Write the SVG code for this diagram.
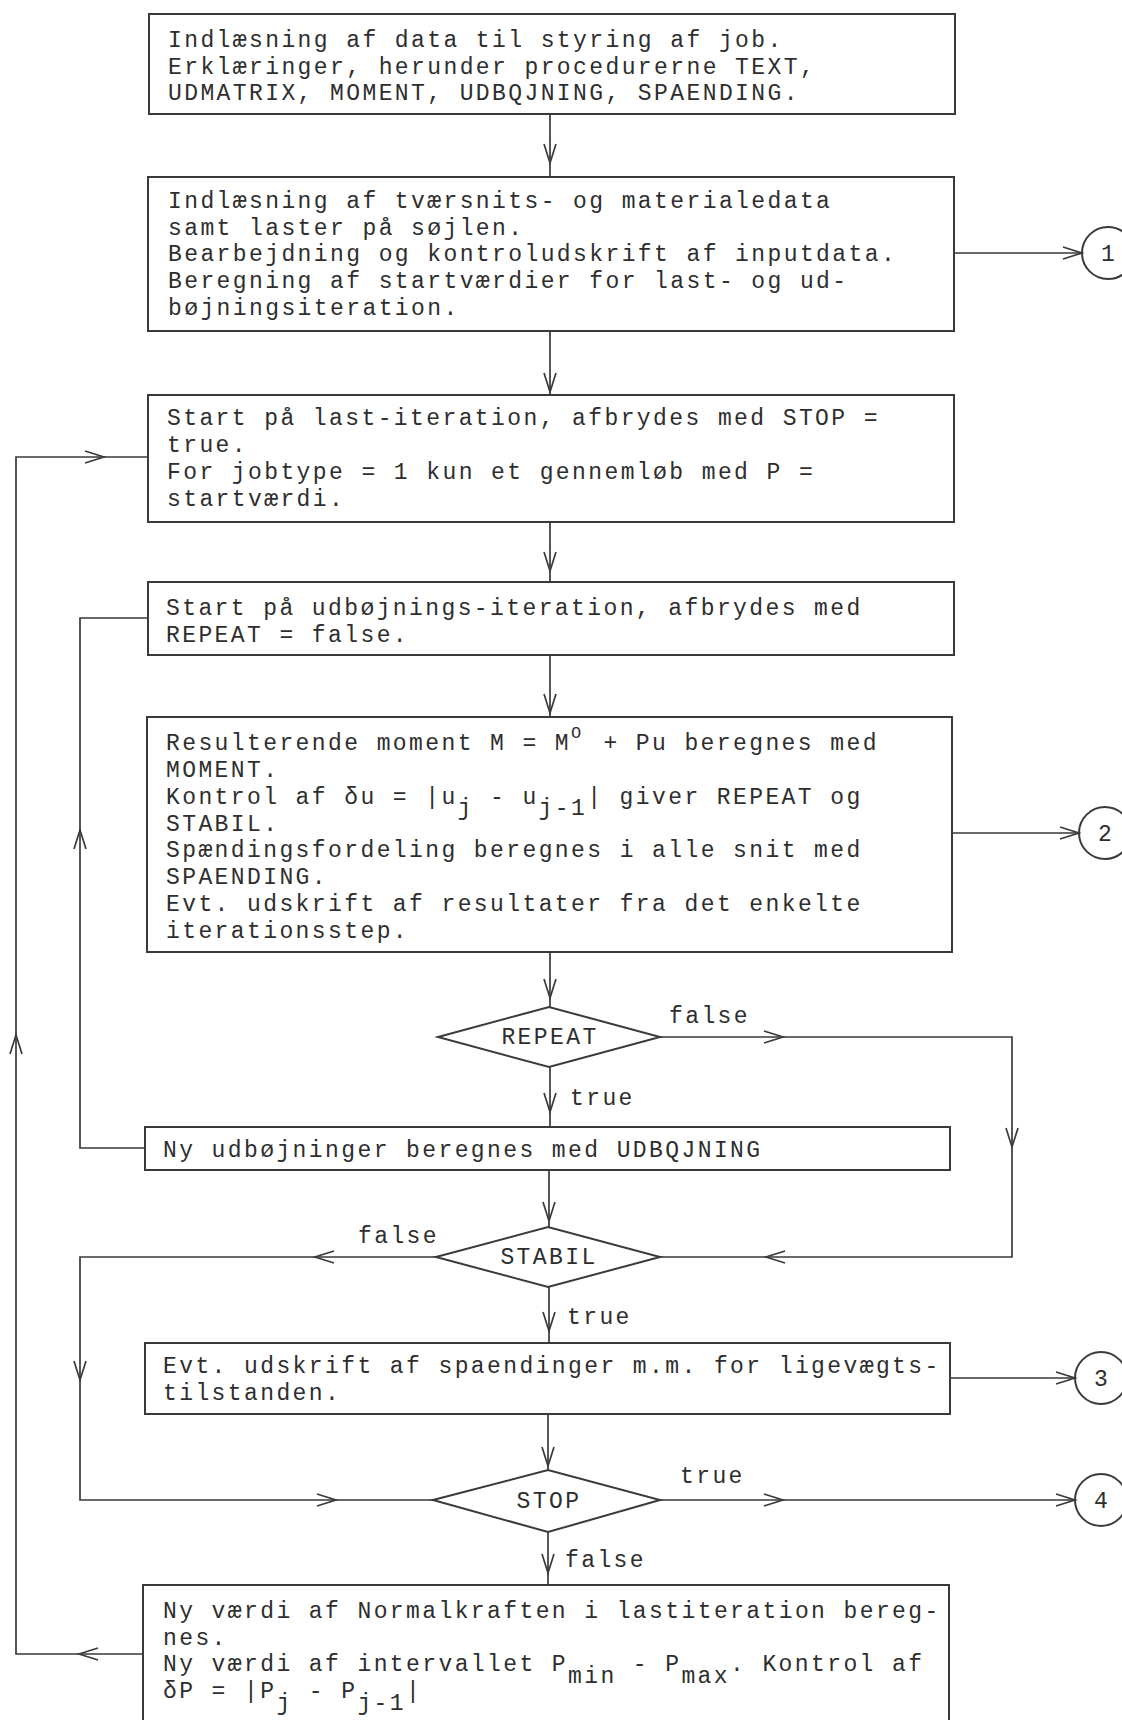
<svg xmlns="http://www.w3.org/2000/svg" xmlns:xlink="http://www.w3.org/1999/xlink" width="1122" height="1720" viewBox="0 0 1122 1720">
<style>
.bx{fill:none;stroke:#3a3a3a;stroke-width:2}
.dm{fill:none;stroke:#3a3a3a;stroke-width:2}
.ln{fill:none;stroke:#3a3a3a;stroke-width:1.7}
.t{font-family:"Liberation Mono","DejaVu Sans Mono",monospace;font-size:23px;letter-spacing:2.4px;fill:#2e2e2e}
.s{font-size:17px;letter-spacing:3px}
.c{text-anchor:middle}
.n{text-anchor:middle;letter-spacing:0}
</style>
<defs>
<path id="chev" d="M-19,-6 L0,0 L-19,6" fill="none" stroke="#3a3a3a" stroke-width="1.7"/>
</defs>
<rect width="1122" height="1720" fill="#ffffff"/>

<g id="connectors">
<path class="ln" d="M550,114 V177 M550,331 V395 M550,522 V582 M550,655 V717 M550,952 V1007 M550,1067 V1127 M549,1170 V1227 M549,1287 V1343 M548,1414 V1470 M548,1532 V1585"/>
<path class="ln" d="M954,253 H1082 M952,833 H1079 M950,1378 H1075 M660,1500 H1075"/>
<path class="ln" d="M660,1037 H1012 V1257 H660"/>
<path class="ln" d="M436,1257 H80 V1500 H433"/>
<path class="ln" d="M145,1148 H80 V618 H148"/>
<path class="ln" d="M143,1654 H16 V457 H148"/>
<use xlink:href="#chev" transform="translate(550,163) rotate(90)"/>
<use xlink:href="#chev" transform="translate(550,392) rotate(90)"/>
<use xlink:href="#chev" transform="translate(550,571) rotate(90)"/>
<use xlink:href="#chev" transform="translate(550,713) rotate(90)"/>
<use xlink:href="#chev" transform="translate(550,998) rotate(90)"/>
<use xlink:href="#chev" transform="translate(550,1112) rotate(90)"/>
<use xlink:href="#chev" transform="translate(549,1221) rotate(90)"/>
<use xlink:href="#chev" transform="translate(549,1331) rotate(90)"/>
<use xlink:href="#chev" transform="translate(548,1466) rotate(90)"/>
<use xlink:href="#chev" transform="translate(548,1573) rotate(90)"/>
<use xlink:href="#chev" transform="translate(1082,253)"/>
<use xlink:href="#chev" transform="translate(1079,833)"/>
<use xlink:href="#chev" transform="translate(1075,1378)"/>
<use xlink:href="#chev" transform="translate(1075,1500)"/>
<use xlink:href="#chev" transform="translate(783,1500)"/>
<use xlink:href="#chev" transform="translate(783,1037)"/>
<use xlink:href="#chev" transform="translate(1012,1147) rotate(90)"/>
<use xlink:href="#chev" transform="translate(766,1257) rotate(180)"/>
<use xlink:href="#chev" transform="translate(315,1257) rotate(180)"/>
<use xlink:href="#chev" transform="translate(80,1380) rotate(90)"/>
<use xlink:href="#chev" transform="translate(336,1500)"/>
<use xlink:href="#chev" transform="translate(80,830) rotate(-90)"/>
<use xlink:href="#chev" transform="translate(79,1654) rotate(180)"/>
<use xlink:href="#chev" transform="translate(16,1035) rotate(-90)"/>
<use xlink:href="#chev" transform="translate(104,457)"/>
<text class="t" x="669" y="1023">false</text>
<text class="t" x="570" y="1105">true</text>
<text class="t" x="358" y="1243">false</text>
<text class="t" x="567" y="1324">true</text>
<text class="t" x="680" y="1483">true</text>
<text class="t" x="565" y="1567">false</text>
</g>

<g id="box1">
<rect class="bx" x="149" y="14" width="806" height="100"/>
<text class="t" x="168" y="47">Indlæsning af data til styring af job.</text>
<text class="t" x="168" y="73.5">Erklæringer, herunder procedurerne TEXT,</text>
<text class="t" x="168" y="100">UDMATRIX, MOMENT, UDBQJNING, SPAENDING.</text>
</g>

<g id="box2">
<rect class="bx" x="148" y="177" width="806" height="154"/>
<text class="t" x="168" y="208">Indlæsning af tværsnits- og materialedata</text>
<text class="t" x="168" y="234.7">samt laster på søjlen.</text>
<text class="t" x="168" y="261.4">Bearbejdning og kontroludskrift af inputdata.</text>
<text class="t" x="168" y="288">Beregning af startværdier for last- og ud-</text>
<text class="t" x="168" y="314.7">bøjningsiteration.</text>
</g>

<g id="box3">
<rect class="bx" x="148" y="395" width="806" height="127"/>
<text class="t" x="167" y="425">Start på last-iteration, afbrydes med STOP =</text>
<text class="t" x="167" y="452">true.</text>
<text class="t" x="167" y="479">For jobtype = 1 kun et gennemløb med P =</text>
<text class="t" x="167" y="506">startværdi.</text>
</g>

<g id="box4">
<rect class="bx" x="148" y="582" width="806" height="73"/>
<text class="t" x="166" y="615">Start på udbøjnings-iteration, afbrydes med</text>
<text class="t" x="166" y="642">REPEAT = false.</text>
</g>

<g id="box5">
<rect class="bx" x="147" y="717" width="805" height="235"/>
<text class="t" y="750"><tspan x="166">Resulterende moment M = M</tspan><tspan class="s" x="571" y="738">O</tspan><tspan x="587.2" y="750"> + Pu beregnes med</tspan></text>
<text class="t" x="166" y="777">MOMENT.</text>
<text class="t" y="804"><tspan x="166">Kontrol af δu = |u</tspan><tspan x="457.6" y="815">j</tspan><tspan x="473.8" y="804"> - u</tspan><tspan x="538.6" y="815">j-1</tspan><tspan x="587.2" y="804">| giver REPEAT og</tspan></text>
<text class="t" x="166" y="831">STABIL.</text>
<text class="t" x="166" y="857">Spændingsfordeling beregnes i alle snit med</text>
<text class="t" x="166" y="884">SPAENDING.</text>
<text class="t" x="166" y="911">Evt. udskrift af resultater fra det enkelte</text>
<text class="t" x="166" y="938">iterationsstep.</text>
</g>

<g id="repeat">
<polygon class="dm" points="438,1037 549,1007 660,1037 549,1067"/>
<text class="t c" x="550" y="1044">REPEAT</text>
</g>

<g id="box6">
<rect class="bx" x="145" y="1127" width="805" height="43"/>
<text class="t" x="163" y="1157">Ny udbøjninger beregnes med UDBQJNING</text>
</g>

<g id="stabil">
<polygon class="dm" points="436,1257 548,1227 660,1257 548,1287"/>
<text class="t c" x="549" y="1264">STABIL</text>
</g>

<g id="box7">
<rect class="bx" x="145" y="1343" width="805" height="71"/>
<text class="t" x="163" y="1373">Evt. udskrift af spaendinger m.m. for ligevægts-</text>
<text class="t" x="163" y="1400">tilstanden.</text>
</g>

<g id="stop">
<polygon class="dm" points="433,1500 548,1470 660,1500 548,1532"/>
<text class="t c" x="549" y="1508">STOP</text>
</g>

<g id="box8">
<rect class="bx" x="143" y="1585" width="806" height="145"/>
<text class="t" x="163" y="1618">Ny værdi af Normalkraften i lastiteration bereg-</text>
<text class="t" x="163" y="1644.7">nes.</text>
<text class="t" y="1671"><tspan x="163">Ny værdi af intervallet P</tspan><tspan x="568" y="1683">min</tspan><tspan x="616.6" y="1671"> - P</tspan><tspan x="681.4" y="1683">max</tspan><tspan x="730" y="1671">. Kontrol af</tspan></text>
<text class="t" y="1698"><tspan x="163">δP = |P</tspan><tspan x="276.4" y="1710">j</tspan><tspan x="292.6" y="1698"> - P</tspan><tspan x="357.4" y="1710">j-1</tspan><tspan x="406" y="1698">|</tspan></text>
</g>

<g id="c1">
<circle class="bx" cx="1108" cy="253" r="26"/>
<text class="t n" x="1108" y="261">1</text>
</g>
<g id="c2">
<circle class="bx" cx="1105" cy="833" r="26"/>
<text class="t n" x="1105" y="841">2</text>
</g>
<g id="c3">
<circle class="bx" cx="1101" cy="1378" r="26"/>
<text class="t n" x="1101" y="1386">3</text>
</g>
<g id="c4">
<circle class="bx" cx="1101" cy="1500" r="26"/>
<text class="t n" x="1101" y="1508">4</text>
</g>
</svg>
